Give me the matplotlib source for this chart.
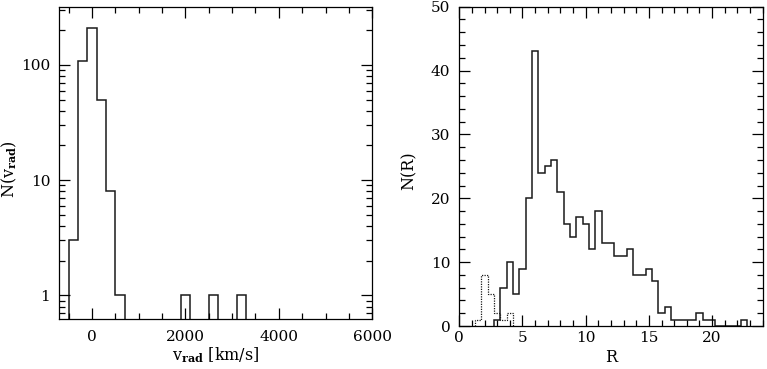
# Two step histograms: radial velocities (log) and R distribution
import numpy as np
import matplotlib
matplotlib.use('Agg')
import matplotlib.pyplot as plt
from matplotlib.ticker import MultipleLocator, LogLocator, NullFormatter, FixedLocator, FixedFormatter

plt.rcParams['font.family'] = 'DejaVu Serif'
plt.rcParams['mathtext.fontset'] = 'dejavuserif'
plt.rcParams['font.size'] = 11.5

# left panel: counts per 200 km/s bin
vrad_edges = np.arange(-500, 3301, 200)
vrad_counts = [3, 108, 210, 50, 8, 1, 0, 0, 0, 0, 0, 0, 1, 0, 0, 1, 0, 0, 1]

# right panel: counts per 0.5 bin in R
r_edges = np.arange(2.75, 22.76, 0.5)
r_counts = [1, 6, 10, 5, 9, 20, 43, 24, 25, 26, 21, 16, 14, 17, 16, 12, 18, 13, 13, 11,
            11, 12, 8, 8, 9, 7, 2, 3, 1, 1, 1, 1, 2, 1, 1, 0, 0, 0, 0, 1]

# dotted subsample
r2_edges = np.arange(1.25, 4.26, 0.5)
r2_counts = [1, 8, 5, 2, 1, 2]

line_col = '#1a1a1a'

fig = plt.figure(figsize=(7.67, 3.69), dpi=100)
ax1 = fig.add_axes([0.0773, 0.1347, 0.408, 0.847])
ax2 = fig.add_axes([0.5988, 0.1165, 0.3956, 0.8653])


def style_ticks(ax, xpad):
    ax.tick_params(which='both', direction='in', top=True, right=True, width=0.9,
                   labelsize=11)
    ax.tick_params(which='major', length=8)
    ax.tick_params(which='minor', length=4.3)
    ax.tick_params(axis='x', pad=xpad)
    ax.tick_params(axis='y', pad=6.5)
    for s in ax.spines.values():
        s.set_linewidth(0.9)


# --- left: log histogram ---
floor = 0.1
vals = np.where(np.array(vrad_counts) > 0, vrad_counts, floor)
ax1.stairs(vals, vrad_edges, baseline=floor, color=line_col, lw=1.1)
ax1.set_yscale('log')
ax1.set_xlim(-700, 6000)
ax1.set_ylim(0.62, 320)
ax1.xaxis.set_major_locator(MultipleLocator(2000))
ax1.xaxis.set_minor_locator(MultipleLocator(500))
ax1.yaxis.set_major_locator(FixedLocator([1, 10, 100]))
ax1.yaxis.set_major_formatter(FixedFormatter(['1', '10', '100']))
ax1.yaxis.set_minor_locator(LogLocator(base=10, subs=np.arange(2, 10)))
ax1.yaxis.set_minor_formatter(NullFormatter())
style_ticks(ax1, 7.5)
ax1.set_xlabel(r'v$_{\mathbf{rad}}$ [km/s]')
ax1.set_ylabel(r'N(v$_{\mathbf{rad}}$)')
ax1.xaxis.set_label_coords(0.5, -0.082)
ax1.yaxis.set_label_coords(-0.129, 0.48)

# --- right: linear histogram ---
ax2.stairs(r_counts, r_edges, baseline=0, color=line_col, lw=1.1)
ax2.stairs(r2_counts, r2_edges, baseline=0, color=line_col, lw=0.9, linestyle=(0, (1, 1)))
ax2.set_xlim(0, 24)
ax2.set_ylim(0, 50)
ax2.xaxis.set_major_locator(MultipleLocator(5))
ax2.xaxis.set_minor_locator(MultipleLocator(1))
ax2.yaxis.set_major_locator(MultipleLocator(10))
ax2.yaxis.set_minor_locator(MultipleLocator(2))
style_ticks(ax2, 3.5)
ax2.set_xlabel('R')
ax2.set_ylabel('N(R)')
ax2.xaxis.set_label_coords(0.5, -0.072)
ax2.yaxis.set_label_coords(-0.139, 0.485)

fig.savefig('out.png', dpi=100)
